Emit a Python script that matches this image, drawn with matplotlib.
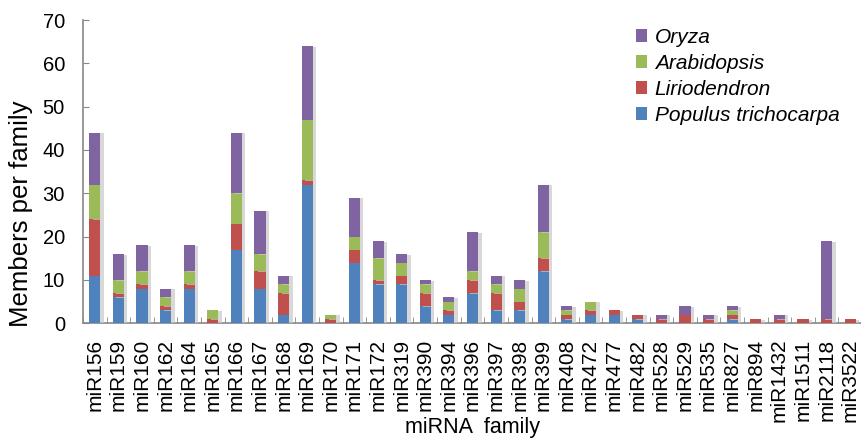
import matplotlib
matplotlib.use("Agg")
import matplotlib.pyplot as plt
import numpy as np
from matplotlib.patches import Patch
import matplotlib.patheffects as pe

families = ["miR156", "miR159", "miR160", "miR162", "miR164", "miR165", "miR166",
            "miR167", "miR168", "miR169", "miR170", "miR171", "miR172", "miR319",
            "miR390", "miR394", "miR396", "miR397", "miR398", "miR399", "miR408",
            "miR472", "miR477", "miR482", "miR528", "miR529", "miR535", "miR827",
            "miR894", "miR1432", "miR1511", "miR2118", "miR3522"]

populus      = [11, 6, 8, 3, 8, 0, 17, 8, 2, 32, 0, 14, 9, 9, 4, 2, 7, 3, 3, 12,
                1, 2, 2, 1, 0, 0, 0, 1, 0, 0, 0, 0, 0]
liriodendron = [13, 1, 1, 1, 1, 1, 6, 4, 5, 1, 1, 3, 1, 2, 3, 1, 3, 4, 2, 3,
                1, 1, 1, 1, 1, 2, 1, 1, 1, 1, 1, 1, 1]
arabidopsis  = [8, 3, 3, 2, 3, 2, 7, 4, 2, 14, 1, 3, 5, 3, 2, 2, 2, 2, 3, 6,
                1, 2, 0, 0, 0, 0, 0, 1, 0, 0, 0, 0, 0]
oryza        = [12, 6, 6, 2, 6, 0, 14, 10, 2, 17, 0, 9, 4, 2, 1, 1, 9, 2, 2, 11,
                1, 0, 0, 0, 1, 2, 1, 1, 0, 1, 0, 18, 0]

series_names = ["Populus trichocarpa", "Liriodendron", "Arabidopsis", "Oryza"]
series_vals = [populus, liriodendron, arabidopsis, oryza]
colors = ["#4F81BD", "#C0504D", "#9BBB59", "#8064A2"]

plt.rcParams["font.family"] = ["Liberation Sans", "DejaVu Sans"]

fig = plt.figure(figsize=(8.62, 4.40), dpi=100)
ax = fig.add_axes([83/862, 1 - 323.3/440, (862 - 83)/862, (323.3 - 20)/440])

x = np.arange(len(families))
bottom = np.zeros(len(families))
shadow = [pe.SimplePatchShadow(offset=(2.5, -0.5), shadow_rgbFace="#c8c8c8", alpha=0.7), pe.Normal()]
for name, vals, c in zip(series_names, series_vals, colors):
    v = np.array(vals, dtype=float)
    bars = ax.bar(x, v, 0.47, bottom=bottom, color=c, label=name, zorder=3)
    for b in bars:
        b.set_path_effects(shadow)
    bottom += v

ax.set_xlim(-0.5, len(families) - 0.5)
ax.set_ylim(0, 70)
ax.set_yticks(np.arange(0, 71, 10))
ax.tick_params(axis="y", labelsize=14.5, length=4, color="#888888", direction="in", pad=13)
ax.set_xticks(x)
ax.set_xticklabels(families, rotation=90, fontsize=15)
ax.set_xticks(np.arange(-0.5, len(families), 1), minor=True)
ax.tick_params(axis="x", which="major", length=0, pad=11)
ax.tick_params(axis="x", which="minor", length=4, color="#888888", direction="in")

for s in ["top", "right"]:
    ax.spines[s].set_visible(False)
for s in ["left", "bottom"]:
    ax.spines[s].set_color("#888888")
    ax.spines[s].set_linewidth(1.2)

ax.set_ylabel("Members per family", fontsize=18.5)
ax.yaxis.set_label_coords(-0.064, 0.36)
ax.set_xlabel("miRNA  family", fontsize=15.5)
ax.xaxis.set_label_coords(0.5, -0.31)

handles = [Patch(facecolor=c, edgecolor="none") for c in colors][::-1]
labels = series_names[::-1]
leg = ax.legend(handles, labels, loc="upper right", bbox_to_anchor=(0.995, 1.035),
                frameon=False, handlelength=0.55, handleheight=0.55, handletextpad=0.35,
                labelspacing=0.33, prop={"style": "italic", "size": 15})

fig.savefig("out.png", dpi=100)
